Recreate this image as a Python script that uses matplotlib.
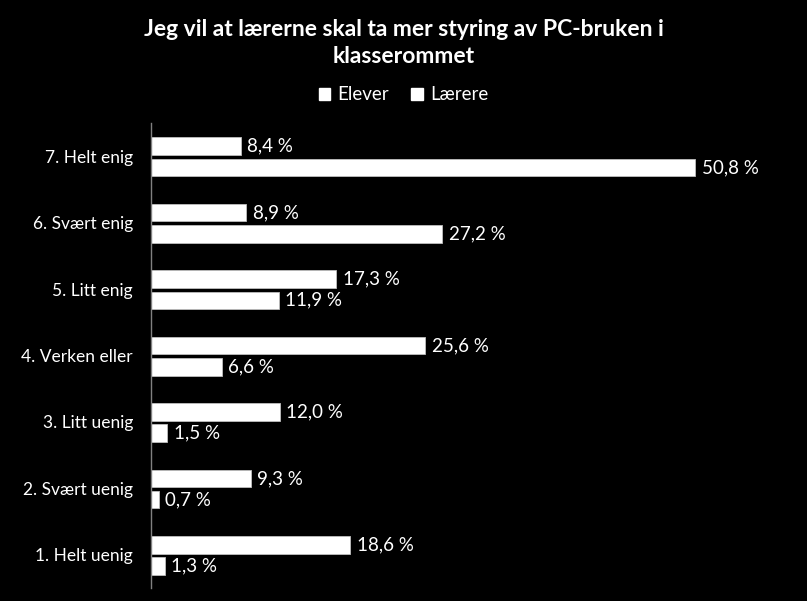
import matplotlib
matplotlib.use("Agg")
import matplotlib.pyplot as plt
from matplotlib.patches import Patch

categories = ["1. Helt uenig", "2. Svært uenig", "3. Litt uenig", "4. Verken eller",
              "5. Litt enig", "6. Svært enig", "7. Helt enig"]
elever = [18.6, 9.3, 12.0, 25.6, 17.3, 8.9, 8.4]
laerere = [1.3, 0.7, 1.5, 6.6, 11.9, 27.2, 50.8]
title = "Jeg vil at lærerne skal ta mer styring av PC-bruken i\nklasserommet"

plt.rcParams['font.family'] = ['Lato', 'DejaVu Sans']

W, H = 807, 601
fig = plt.figure(figsize=(W/100, H/100), dpi=100, facecolor='black')
ax = fig.add_axes([151/W, 13/H, 643/W, 465/H], facecolor='black')

y = list(range(len(categories)))
h = 0.265
ax.barh([v + 0.15 for v in y], elever, height=h, color='white', edgecolor='#bfbfbf', linewidth=0.6)
ax.barh([v - 0.17 for v in y], laerere, height=h, color='white', edgecolor='#bfbfbf', linewidth=0.6)

def fmt(v):
    return f"{v:.1f} %".replace('.', ',')

for yi, v in zip(y, elever):
    ax.text(v + 0.6, yi + 0.15, fmt(v), color='white', fontsize=13.5, va='center', ha='left')
for yi, v in zip(y, laerere):
    ax.text(v + 0.6, yi - 0.17, fmt(v), color='white', fontsize=13.5, va='center', ha='left')

ax.set_xlim(0, 60)
ax.set_ylim(-0.5, 6.5)
ax.set_yticks(y)
ax.set_yticklabels(categories, color='white', fontsize=12.5)
ax.tick_params(axis='y', length=0, pad=13)
ax.set_xticks([])
for s in ['top', 'right', 'bottom']:
    ax.spines[s].set_visible(False)
ax.spines['left'].set_color('#808080')
ax.spines['left'].set_linewidth(1)

fig.text(0.5, 1 - 43/H, title, color='white', fontsize=16.5, fontweight='bold',
         ha='center', va='center', linespacing=1.3)

handles = [Patch(facecolor='white', edgecolor='white', label='Elever'),
           Patch(facecolor='white', edgecolor='white', label='Lærere')]
leg = fig.legend(handles=handles, loc='center', bbox_to_anchor=(0.5, 1 - 95/H), ncol=2,
                 frameon=False, fontsize=13.5, handlelength=0.6, handleheight=0.6,
                 handletextpad=0.4, columnspacing=1.2)
for t in leg.get_texts():
    t.set_color('white')

fig.savefig("out.png", dpi=100, facecolor='black')
